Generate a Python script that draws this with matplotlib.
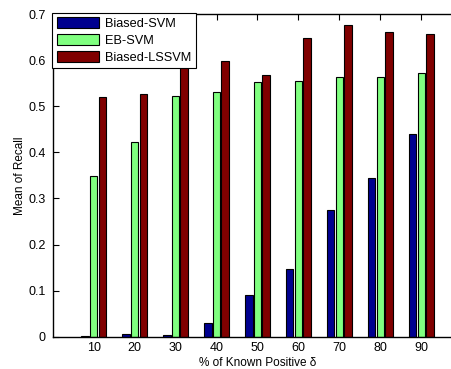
import numpy as np
import matplotlib.pyplot as plt

plt.rcParams['font.family'] = ['Liberation Sans', 'DejaVu Sans']

labels = ['10', '20', '30', '40', '50', '60', '70', '80', '90']
biased_svm = [0.001, 0.006, 0.003, 0.029, 0.090, 0.147, 0.274, 0.344, 0.440]
eb_svm = [0.349, 0.422, 0.523, 0.531, 0.552, 0.555, 0.563, 0.563, 0.573]
biased_lssvm = [0.521, 0.527, 0.590, 0.598, 0.568, 0.648, 0.676, 0.662, 0.657]

series = [('Biased-SVM', biased_svm, '#00008F'),
          ('EB-SVM', eb_svm, '#80FF80'),
          ('Biased-LSSVM', biased_lssvm, '#800000')]

fig = plt.figure(figsize=(4.52, 3.69), dpi=100)
ax = fig.add_axes([0.1166, 0.0875, 0.906, 0.8745])
ax.set_axisbelow(True)

x = np.arange(1, len(labels) + 1)
w = 0.18
off = 0.21
for i, (name, vals, col) in enumerate(series):
    ax.bar(x + (i - 1) * off, vals, w, color=col, edgecolor='black',
           linewidth=0.8, label=name)

ax.set_xlim(0, 10)
ax.set_ylim(0, 0.7)
ax.set_xticks(x)
ax.set_xticklabels(labels)
ax.set_yticks(np.arange(0, 0.71, 0.1))
ax.set_yticklabels(['0', '0.1', '0.2', '0.3', '0.4', '0.5', '0.6', '0.7'])
ax.tick_params(direction='in', length=4, labelsize=9, top=True, right=True,
               width=0.8)
ax.tick_params(axis='y', pad=5)
ax.tick_params(axis='x', pad=4)
for s in ax.spines.values():
    s.set_linewidth(1.0)

ax.set_xlabel('% of Known Positive δ', fontsize=8.5, labelpad=2)
ax.set_ylabel('Mean of Recall', fontsize=8.5, labelpad=2)

leg = ax.legend(loc='upper left', bbox_to_anchor=(52.5 / 452, 1 - 12.5 / 369),
                bbox_transform=fig.transFigure, fontsize=9.2, frameon=True,
                fancybox=False, edgecolor='black', framealpha=1,
                handlelength=3.3, handleheight=1.0, borderpad=0.35,
                labelspacing=0.3, handletextpad=0.45, borderaxespad=0)
leg.get_frame().set_linewidth(0.8)

fig.savefig('out.png', dpi=100)
